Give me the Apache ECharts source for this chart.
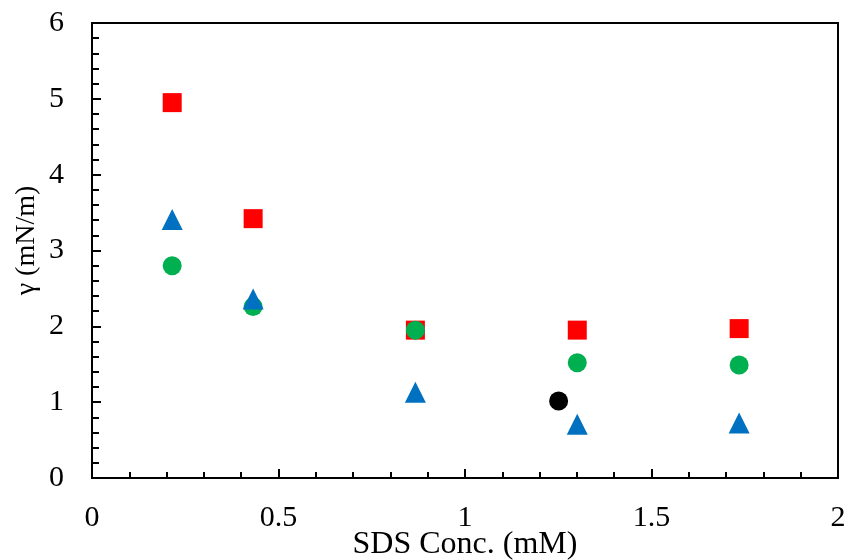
<!DOCTYPE html>
<html><head><meta charset="utf-8">
<script src="https://cdn.jsdelivr.net/npm/echarts@6/dist/echarts.min.js"></script>
<style>html,body{margin:0;padding:0;background:#fff}#c{width:850px;height:560px}</style>
</head><body><div id="c"></div>
<script>
const xRed = [0.215, 0.432, 0.867, 1.301, 1.735];
const yRed = [4.95, 3.42, 1.95, 1.95, 1.97];
const xGreen = [0.215, 0.432, 0.867, 1.301, 1.735];
const yGreen = [2.80, 2.26, 1.95, 1.52, 1.49];
const xBlue = [0.215, 0.432, 0.867, 1.301, 1.735];
const yBlue = [3.41, 2.36, 1.13, 0.71, 0.725];
const xBlack = [1.251];
const yBlack = [1.015];
const xTitle = 'SDS Conc. (mM)';
const yTitle = 'γ (mN/m)';

const pairs = (xs, ys) => xs.map((x, i) => [x, ys[i]]);
const font = 'Liberation Serif';
const chart = echarts.init(document.getElementById('c'), null, {renderer: 'canvas'});
chart.setOption({
  animation: false,
  grid: {left: 92, right: 12, top: 23, bottom: 82, containLabel: false, outerBoundsMode: 'none',
    show: true, borderColor: '#000', borderWidth: 2, backgroundColor: 'transparent'},
  xAxis: {
    type: 'value', min: 0, max: 2, interval: 0.5,
    name: xTitle, nameLocation: 'middle', nameGap: 51, nameMoveOverlap: false,
    nameTextStyle: {fontFamily: font, fontSize: 32, color: '#000'},
    axisLine: {show: true, lineStyle: {color: '#000', width: 2}},
    axisTick: {show: true, inside: true, length: 9, lineStyle: {color: '#000', width: 2}},
    minorTick: {show: true, splitNumber: 5, length: 6, lineStyle: {color: '#000', width: 2}},
    splitLine: {show: false},
    axisLabel: {fontFamily: font, fontSize: 30, color: '#000', margin: 25,
      formatter: v => String(v)}
  },
  yAxis: {
    type: 'value', min: 0, max: 6, interval: 1,
    name: yTitle, nameLocation: 'middle', nameGap: 51, nameMoveOverlap: false,
    nameTextStyle: {fontFamily: font, fontSize: 28, color: '#000', padding: [0, 0, 0, 20]},
    axisLine: {show: true, lineStyle: {color: '#000', width: 2}},
    axisTick: {show: true, inside: true, length: 9, lineStyle: {color: '#000', width: 2}},
    minorTick: {show: true, splitNumber: 5, length: 7, lineStyle: {color: '#000', width: 2}},
    splitLine: {show: false},
    axisLabel: {fontFamily: font, fontSize: 30, color: '#000', margin: 28}
  },
  series: [
    {type: 'scatter', data: pairs(xRed, yRed), symbol: 'rect', symbolSize: 19, itemStyle: {color: '#FF0000', opacity: 1}},
    {type: 'scatter', data: pairs(xGreen, yGreen), symbol: 'circle', symbolSize: 19, itemStyle: {color: '#00B050', opacity: 1}},
    {type: 'scatter', data: pairs(xBlue, yBlue), symbol: 'triangle', symbolSize: 21, itemStyle: {color: '#0070C0', opacity: 1}},
    {type: 'scatter', data: pairs(xBlack, yBlack), symbol: 'circle', symbolSize: 19, itemStyle: {color: '#000000', opacity: 1}}
  ]
});
</script></body></html>
